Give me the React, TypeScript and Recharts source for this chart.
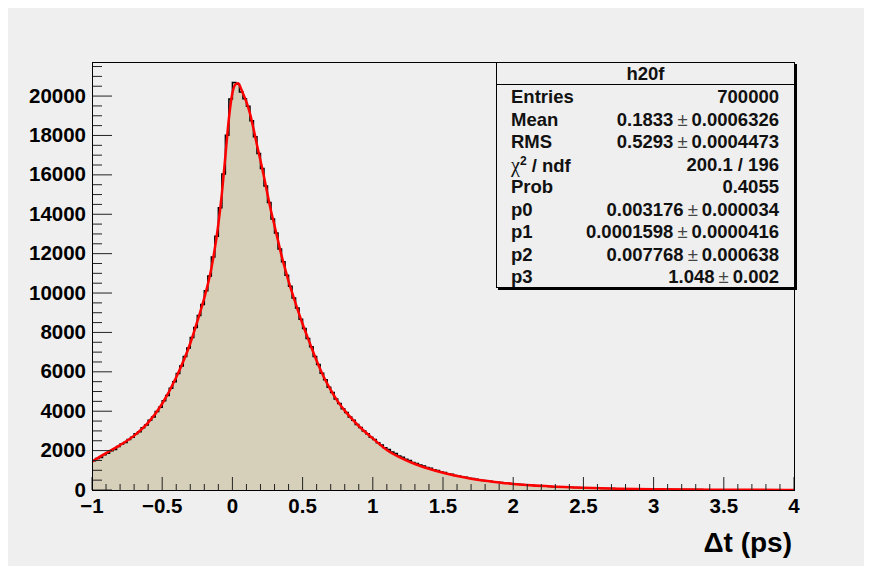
import React from "react";
import { ComposedChart, Area, Line, XAxis, YAxis } from "recharts";

// histogram h20f: 200 bins over [-1, 4] ps
const X_MIN = -1;
const X_MAX = 4;
const Y_MAX = 21730;

const binCounts = [
  1480, 1600, 1650, 1790, 1870, 1990, 2060, 2210, 2330, 2410,
  2570, 2680, 2850, 2960, 3160, 3300, 3540, 3710, 3990, 4200,
  4530, 4800, 5170, 5500, 5920, 6290, 6780, 7210, 7740, 8250,
  8860, 9420, 10120, 10860, 11830, 12880, 14330, 16050, 18010, 19850,
  20695, 20600, 20210, 19870, 19480, 18750, 17930, 17080, 16320, 15430,
  14600, 13760, 13050, 12240, 11590, 10900, 10340, 9750, 9240, 8670,
  8200, 7690, 7270, 6780, 6370, 5930, 5600, 5220, 4950, 4620,
  4390, 4130, 3940, 3700, 3540, 3330, 3170, 2990, 2860, 2680,
  2560, 2400, 2290, 2150, 2050, 1930, 1850, 1730, 1660, 1560,
  1500, 1400, 1350, 1270, 1220, 1140, 1100, 1030, 990, 920,
  890, 830, 800, 740, 715, 670, 645, 600, 580, 540,
  525, 485, 470, 440, 425, 395, 385, 355, 345, 318,
  305, 292, 274, 265, 246, 238, 221, 214, 200, 193,
  183, 170, 165, 153, 149, 138, 135, 124, 121, 112,
  108, 100, 98, 91, 88, 82, 80, 74, 72, 66,
  63, 61, 56, 55, 51, 50, 46, 45, 41, 40,
  39, 35, 35, 31, 32, 28, 29, 25, 26, 23,
  22, 23, 20, 21, 18, 19, 16, 17, 14, 15,
  13, 12, 13, 11, 10, 11, 9, 10, 8, 9,
  8, 7, 7, 6, 7, 5, 6, 5, 5, 4,
];

// fitted function sampled along dt
const fitX = [
  -1.0, -0.9, -0.8, -0.7, -0.6, -0.5, -0.4, -0.3, -0.25, -0.2,
  -0.15, -0.1, -0.075, -0.05, -0.025, 0, 0.02, 0.04, 0.06, 0.08,
  0.1, 0.125, 0.15, 0.175, 0.2, 0.225, 0.25, 0.275, 0.3, 0.325,
  0.35, 0.375, 0.4, 0.45, 0.5, 0.55, 0.6, 0.65, 0.7, 0.75,
  0.8, 0.85, 0.9, 0.95, 1.0, 1.1, 1.2, 1.3, 1.4, 1.5,
  1.6, 1.7, 1.8, 1.9, 2.0, 2.25, 2.5, 2.75, 3.0, 3.25,
  3.5, 3.75, 4.0,
];
const fitY = [
  1440, 1870, 2280, 2760, 3420, 4380, 5720, 7450, 8560, 9760,
  11250, 13500, 15050, 16950, 18850, 20150, 20580, 20650, 20400, 20050,
  19700, 19120, 18350, 17520, 16720, 15900, 15010, 14170, 13420, 12660,
  11900, 11240, 10600, 9480, 8430, 7480, 6560, 5750, 5080, 4500,
  4030, 3620, 3250, 2920, 2620, 2030, 1630, 1320, 1080, 880,
  710, 575, 470, 385, 310, 190, 112, 66, 40, 23,
  14, 8, 5,
];

const yTicks = Array.from({ length: 44 }, (_, i) => i * 500);
const xTicks = Array.from({ length: 51 }, (_, i) => Math.round((-1 + i * 0.1) * 10) / 10);

const statsTitle = "h20f";
const statsRows: [React.ReactNode, string, string?][] = [
  ["Entries", "700000"],
  ["Mean", "0.1833", "0.0006326"],
  ["RMS", "0.5293", "0.0004473"],
  [
    <span key="chi" style={{ display: "inline-block", height: 22.5 }}>
      <span style={{ fontFamily: "'Liberation Serif', serif", fontWeight: 400, fontSize: 20 }}>χ</span>
      <span style={{ fontSize: 12, position: "relative", top: -7 }}>2</span> / ndf
    </span>,
    "200.1 / 196",
  ],
  ["Prob", "0.4055"],
  ["p0", "0.003176", "0.000034"],
  ["p1", "0.0001598", "0.0000416"],
  ["p2", "0.007768", "0.000638"],
  ["p3", "1.048", "0.002"],
];

const binWidth = (X_MAX - X_MIN) / binCounts.length;
const histData = binCounts
  .map((c, i) => ({ x: X_MIN + i * binWidth, y: c }))
  .concat([{ x: X_MAX, y: binCounts[binCounts.length - 1] }]);
const fitData = fitX.map((x, i) => ({ x, y: fitY[i] }));

// layout of the canvas
const W = 864;
const H = 558;
const Y_W = 80;
const X_H = 30;
const MARGIN = { top: 54, right: 74, bottom: H - 482 - X_H, left: 88 - Y_W };
const PLOT_LEFT = MARGIN.left + Y_W;
const PLOT_BOTTOM = H - MARGIN.bottom - X_H;
const FONT = "'Liberation Sans', Arial, Helvetica, sans-serif";

const fmtMinus = (v: number) => (v < 0 ? "\u2212" + Math.abs(v) : String(v));

const YTick = (props: any) => {
  const { y, payload } = props;
  const v = payload.value as number;
  const major = v % 2000 === 0;
  return (
    <g>
      <line x1={PLOT_LEFT} x2={PLOT_LEFT + (major ? 20 : 10)} y1={y} y2={y} stroke="#222" />
      {major && (
        <text x={PLOT_LEFT - 6} y={y} dy={6.5} textAnchor="end" fontFamily={FONT} fontWeight={700} fontSize={20.5} fill="#000">
          {v}
        </text>
      )}
    </g>
  );
};

const XTick = (props: any) => {
  const { x, payload } = props;
  const v = payload.value as number;
  const major = Math.abs(v * 2 - Math.round(v * 2)) < 1e-6;
  return (
    <g>
      <line x1={x} x2={x} y1={PLOT_BOTTOM} y2={PLOT_BOTTOM - (major ? 13 : 6)} stroke="#222" />
      {major && (
        <text x={x} y={PLOT_BOTTOM + 23} textAnchor="middle" fontFamily={FONT} fontWeight={700} fontSize={20.5} fill="#000">
          {fmtMinus(v)}
        </text>
      )}
    </g>
  );
};

export default function App() {
  const plotW = W - MARGIN.left - MARGIN.right - Y_W;
  const plotH = PLOT_BOTTOM - MARGIN.top;
  return (
    <div
      style={{
        position: "relative",
        width: W,
        height: H,
        marginLeft: -4,
        background: "#efefef",
        fontFamily: FONT,
      }}
    >
      <ComposedChart width={W} height={H} margin={MARGIN}>
        <XAxis
          dataKey="x"
          type="number"
          domain={[X_MIN, X_MAX]}
          ticks={xTicks}
          interval={0}
          height={X_H}
          axisLine={false}
          tickLine={false}
          tickSize={0}
          tick={<XTick />}
          allowDataOverflow
        />
        <YAxis
          type="number"
          domain={[0, Y_MAX]}
          ticks={yTicks}
          interval={0}
          width={Y_W}
          axisLine={false}
          tickLine={false}
          tickSize={0}
          tick={<YTick />}
          allowDataOverflow
        />
        <Area
          data={histData}
          dataKey="y"
          type="stepAfter"
          stroke="#000"
          strokeWidth={1.5}
          fill="#d6d0ba"
          fillOpacity={1}
          isAnimationActive={false}
        />
        <Line
          data={fitData}
          dataKey="y"
          type="monotone"
          stroke="#ff0000"
          strokeWidth={2.5}
          dot={false}
          isAnimationActive={false}
        />
      </ComposedChart>

      {/* frame around the pad */}
      <div
        style={{
          position: "absolute",
          left: PLOT_LEFT,
          top: MARGIN.top,
          width: plotW + 1,
          height: plotH + 1,
          border: "1px solid #000",
          boxSizing: "border-box",
          pointerEvents: "none",
        }}
      />

      {/* stats box */}
      <div
        style={{
          position: "absolute",
          left: 492,
          top: 54,
          width: 299,
          height: 226,
          border: "1px solid #000",
          boxShadow: "2px 2px 0 #000",
          boxSizing: "border-box",
          background: "#efefef",
          fontWeight: 700,
          fontSize: 18.5,
          color: "#111",
        }}
      >
        <div
          style={{
            height: 21,
            lineHeight: "21px",
            textAlign: "center",
            borderBottom: "1px solid #000",
          }}
        >
          {statsTitle}
        </div>
        <div style={{ position: "absolute", top: 23, left: 14, right: 15 }}>
          {statsRows.map(([label, val, err], i) => (
            <div
              key={i}
              style={{
                display: "flex",
                justifyContent: "space-between",
                height: 22.5,
                lineHeight: "22.5px",
                whiteSpace: "nowrap",
                overflow: "visible",
              }}
            >
              <span>{label}</span>
              <span>
                {val}
                {err !== undefined && (
                  <>
                    <span style={{ fontWeight: 400, color: "#444", margin: "0 4px" }}>±</span>
                    {err}
                  </>
                )}
              </span>
            </div>
          ))}
        </div>
      </div>

      {/* x axis title */}
      <div
        style={{
          position: "absolute",
          right: W - 788,
          top: 519,
          fontSize: 28,
          fontWeight: 700,
          lineHeight: "32px",
          whiteSpace: "nowrap",
        }}
      >
        Δt (ps)
      </div>
    </div>
  );
}
